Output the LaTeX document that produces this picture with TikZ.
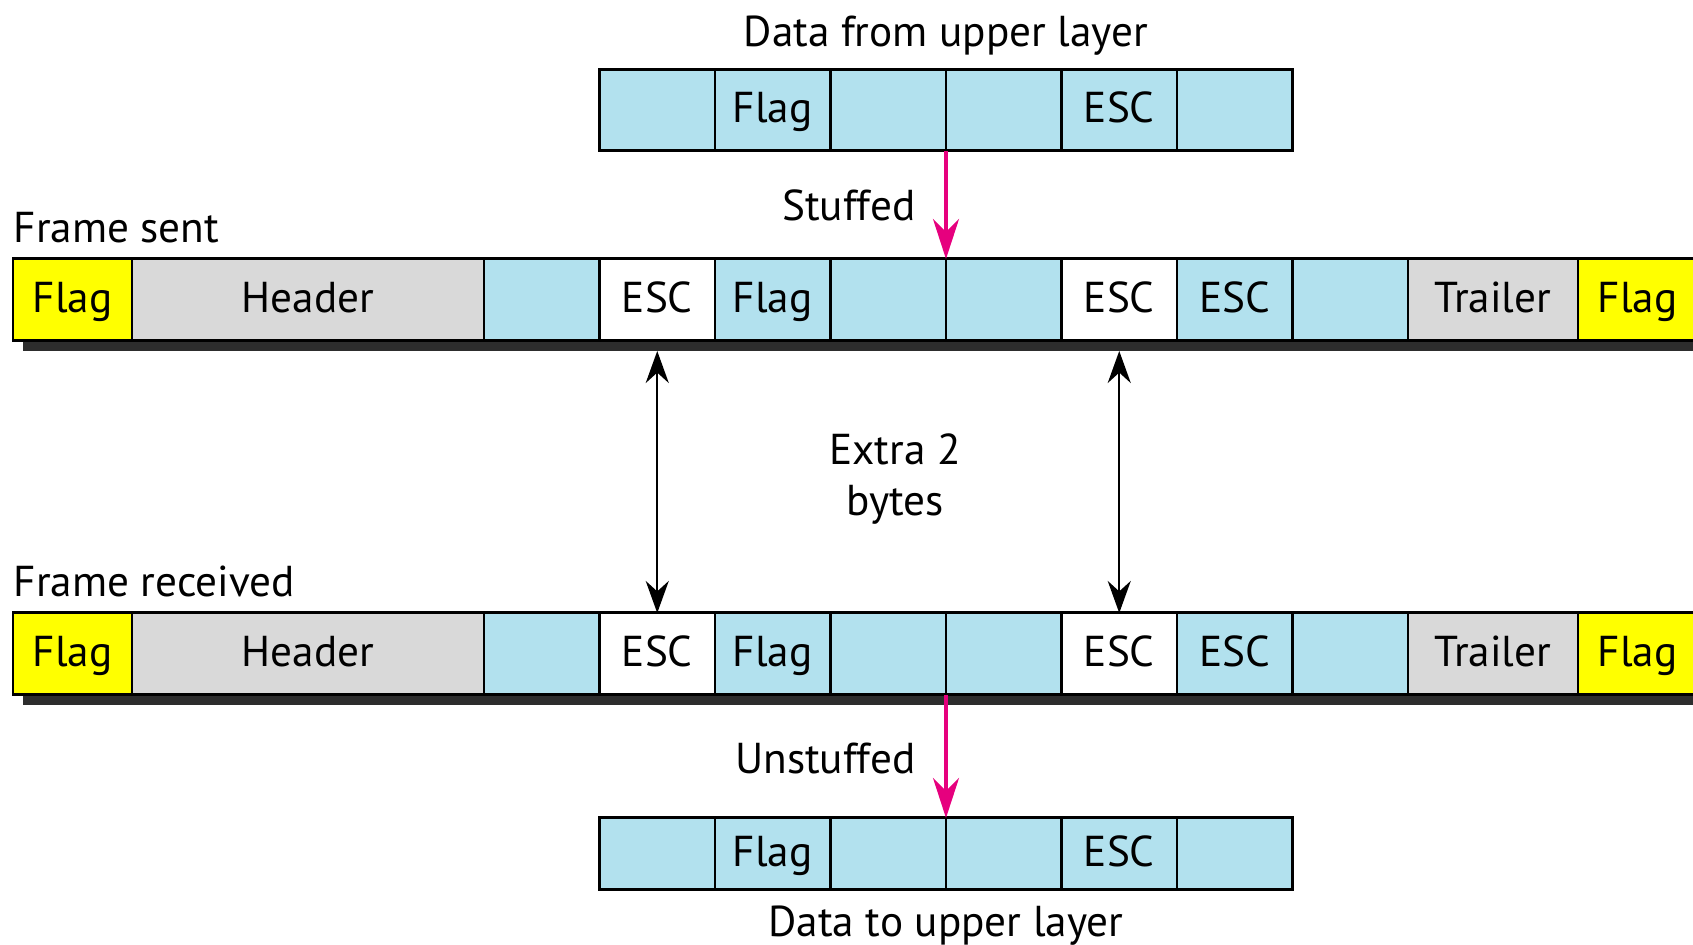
\documentclass[tikz,border=0pt]{standalone}
\usepackage{fontspec}
\setmainfont{PT Sans}
\usepackage{xcolor}
\usetikzlibrary{arrows.meta,backgrounds}

\definecolor{cellblue}{RGB}{178,225,238}
\definecolor{cellgray}{RGB}{217,217,217}
\definecolor{flagyellow}{RGB}{255,255,0}
\definecolor{stuffpink}{RGB}{230,0,126}
\definecolor{shadowgray}{RGB}{45,45,45}

\begin{document}
\begin{tikzpicture}[>={Stealth[length=3.2mm,width=2.3mm]},
    font=\fontsize{12.3}{14.5}\selectfont,
    cell/.style={draw=black, line width=0.85pt, inner sep=0pt, outer sep=0pt,
      minimum height=0.82cm, text height=0.85em, text depth=0.15em},
    byte/.style={cell, fill=cellblue, minimum width=1.155cm},
    esc/.style={cell, fill=white, minimum width=1.155cm},
    flag/.style={cell, fill=flagyellow, minimum width=1.19cm},
    hdr/.style={cell, fill=cellgray},
    shadow/.style={fill=shadowgray},
    pink/.style={->, stuffpink, line width=1pt, >={Stealth[length=4mm,width=2.6mm]}}]
    \useasboundingbox (0,0) rectangle (16.93,-9.45);

    % data handed down
    \node (top text) [anchor=base] at (9.46,-0.47) {Data from upper layer};
    \node [byte, minimum height=0.81cm] (u1) at (6.5725,-1.105) {};
    \node [byte, minimum height=0.81cm] (u2) at (7.7275,-1.105) {Flag};
    \node [byte, minimum height=0.81cm] (u3) at (8.8825,-1.105) {};
    \node [byte, minimum height=0.81cm] (u4) at (10.0375,-1.105) {};
    \node [byte, minimum height=0.81cm] (u5) at (11.1925,-1.105) {ESC};
    \node [byte, minimum height=0.81cm] (u6) at (12.3475,-1.105) {};

    % frame sent
    \node (sent text) [anchor=base west, inner xsep=0pt] at (0.13,-2.43) {Frame sent};
    \node [flag] (s1) at (0.725,-3.0) {Flag};
    \node [hdr, minimum width=3.52cm] (s2) at (3.08,-3.0) {Header};
    \node [byte] (s3) at (5.4175,-3.0) {};
    \node [esc] (s4) at (6.5725,-3.0) {ESC};
    \node [byte] (s5) at (7.7275,-3.0) {Flag};
    \node [byte] (s6) at (8.8825,-3.0) {};
    \node [byte] (s7) at (10.0375,-3.0) {};
    \node [esc] (s8) at (11.1925,-3.0) {ESC};
    \node [byte] (s9) at (12.3475,-3.0) {ESC};
    \node [byte] (s10) at (13.5025,-3.0) {};
    \node [hdr, minimum width=1.70cm] (s11) at (14.93,-3.0) {Trailer};
    \node [flag] (s12) at (16.375,-3.0) {Flag};

    % frame received
    \node (recv text) [anchor=base west, inner xsep=0pt] at (0.13,-5.97) {Frame received};
    \node [flag] (r1) at (0.725,-6.54) {Flag};
    \node [hdr, minimum width=3.52cm] (r2) at (3.08,-6.54) {Header};
    \node [byte] (r3) at (5.4175,-6.54) {};
    \node [esc] (r4) at (6.5725,-6.54) {ESC};
    \node [byte] (r5) at (7.7275,-6.54) {Flag};
    \node [byte] (r6) at (8.8825,-6.54) {};
    \node [byte] (r7) at (10.0375,-6.54) {};
    \node [esc] (r8) at (11.1925,-6.54) {ESC};
    \node [byte] (r9) at (12.3475,-6.54) {ESC};
    \node [byte] (r10) at (13.5025,-6.54) {};
    \node [hdr, minimum width=1.70cm] (r11) at (14.93,-6.54) {Trailer};
    \node [flag] (r12) at (16.375,-6.54) {Flag};

    % data handed up
    \node [byte, minimum height=0.72cm] (d1) at (6.5725,-8.54) {};
    \node [byte, minimum height=0.72cm] (d2) at (7.7275,-8.54) {Flag};
    \node [byte, minimum height=0.72cm] (d3) at (8.8825,-8.54) {};
    \node [byte, minimum height=0.72cm] (d4) at (10.0375,-8.54) {};
    \node [byte, minimum height=0.72cm] (d5) at (11.1925,-8.54) {ESC};
    \node [byte, minimum height=0.72cm] (d6) at (12.3475,-8.54) {};
    \node (bottom text) [anchor=base] at (9.46,-9.37) {Data to upper layer};

    \begin{scope}[on background layer]
      \fill[shadow] ([shift={(0.1,-0.1)}]s1.south west) rectangle ([shift={(0.1,-0.1)}]s12.north east);
      \fill[shadow] ([shift={(0.1,-0.1)}]r1.south west) rectangle ([shift={(0.1,-0.1)}]r12.north east);
    \end{scope}

    \draw[pink] (u3.south east) -- node[left=1.7mm, text=black] {Stuffed} (s6.north east);
    \draw[pink] (r6.south east) -- node[left=1.7mm, text=black, pos=0.52] {Unstuffed} (d3.north east);

    \draw[<->, line width=0.7pt] ([yshift=-1mm]s4.south) -- (r4.north);
    \draw[<->, line width=0.7pt] ([yshift=-1mm]s8.south) -- (r8.north);
    \node [align=center] (extra) at (8.95,-4.79) {Extra 2\\bytes};
  \end{tikzpicture}
\end{document}
